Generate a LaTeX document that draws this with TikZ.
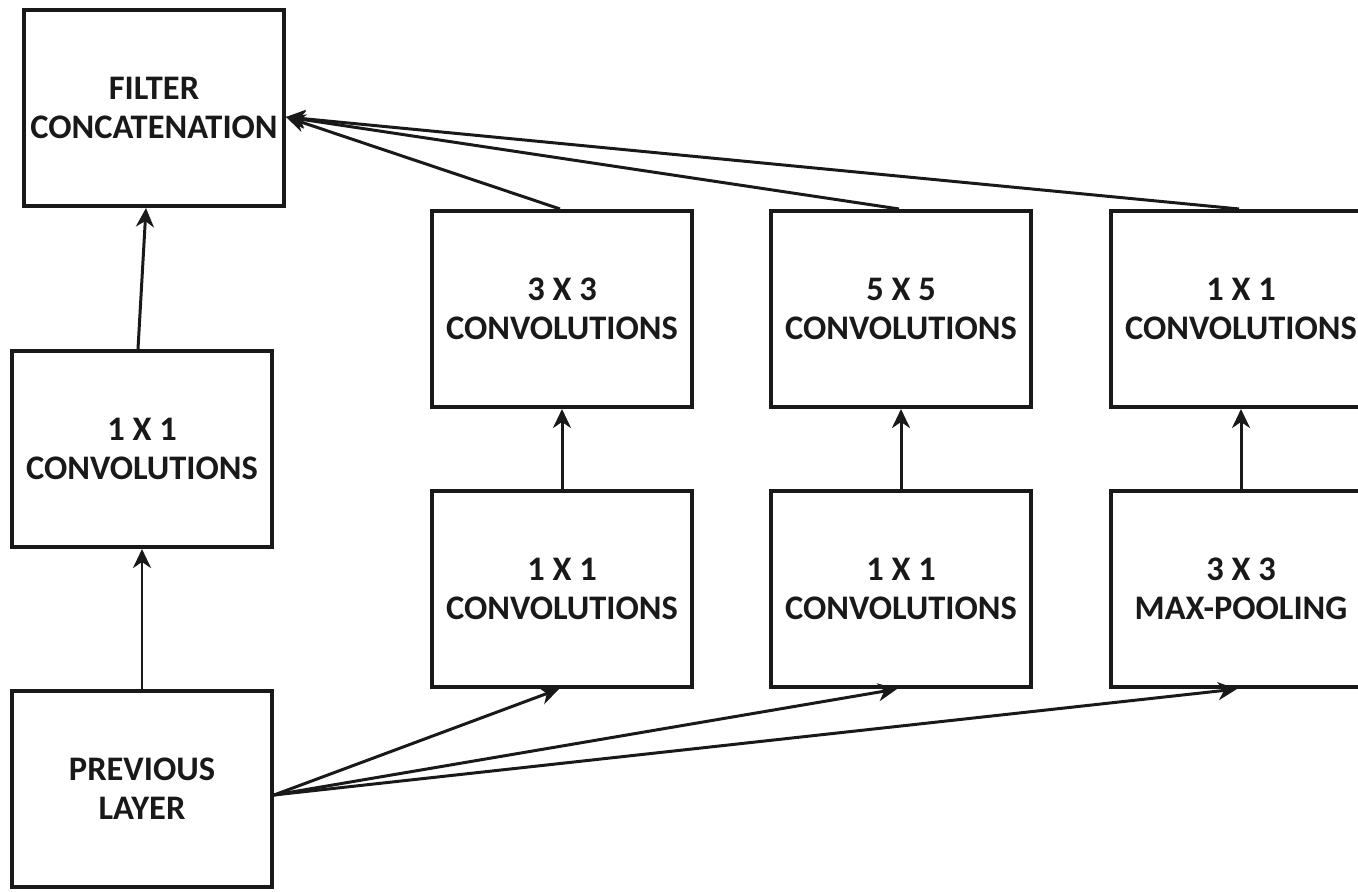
\documentclass[tikz,border=0pt]{standalone}
\usepackage{fontspec}
\setmainfont{Carlito}
\usetikzlibrary{arrows.meta}
\tikzset{
	layerbox/.style={draw=black!90, line width=2.3pt, minimum width=5.2cm, minimum height=3.92cm, align=center, font=\fontsize{19.6}{22.4}\selectfont\bfseries, text=black!90},
	flow/.style={draw=black!90, line width=1.7pt, -{Stealth[length=0.38cm, width=0.36cm, inset=0.12cm]}}
}

\begin{document}
\begin{tikzpicture}
			%%%%% START %%%%%
			\useasboundingbox (0, 0) rectangle (27.16, 17.84);
			
			\node[layerbox] (concat) at (3.08, 15.68) {FILTER\\CONCATENATION};
			\node[layerbox] (convA) at (2.84, 8.86) {1 X 1\\CONVOLUTIONS};
			\node[layerbox] (prev) at (2.84, 2.06) {PREVIOUS\\LAYER};
			
			\node[layerbox] (convB) at (11.24, 11.66) {3 X 3\\CONVOLUTIONS};
			\node[layerbox] (redB) at (11.24, 6.06) {1 X 1\\CONVOLUTIONS};
			
			\node[layerbox] (convC) at (18.02, 11.66) {5 X 5\\CONVOLUTIONS};
			\node[layerbox] (redC) at (18.02, 6.06) {1 X 1\\CONVOLUTIONS};
			
			\node[layerbox] (convD) at (24.82, 11.66) {1 X 1\\CONVOLUTIONS};
			\node[layerbox] (pool) at (24.82, 6.06) {3 X 3\\MAX-POOLING};
			
			\draw[flow] (prev.north) -- (convA.south);
			\draw[flow] ([xshift=-0.08cm]convA.north) -- ([xshift=-0.16cm]concat.south);
			
			\draw[flow] (redB.north) -- (convB.south);
			\draw[flow] (redC.north) -- (convC.south);
			\draw[flow] (pool.north) -- (convD.south);
			
			\draw[flow] ([yshift=-0.12cm]prev.east) -- ([xshift=-0.06cm]redB.south);
			\draw[flow] ([yshift=-0.12cm]prev.east) -- ([xshift=-0.08cm]redC.south);
			\draw[flow] ([yshift=-0.12cm]prev.east) -- ([xshift=-0.08cm]pool.south);
			
			\draw[flow] ([xshift=-0.04cm]convB.north) -- ([yshift=-0.18cm]concat.east);
			\draw[flow] ([xshift=-0.04cm]convC.north) -- ([yshift=-0.18cm]concat.east);
			\draw[flow] ([xshift=-0.04cm]convD.north) -- ([yshift=-0.18cm]concat.east);
			%%%%% END %%%%%
\end{tikzpicture}
\end{document}
